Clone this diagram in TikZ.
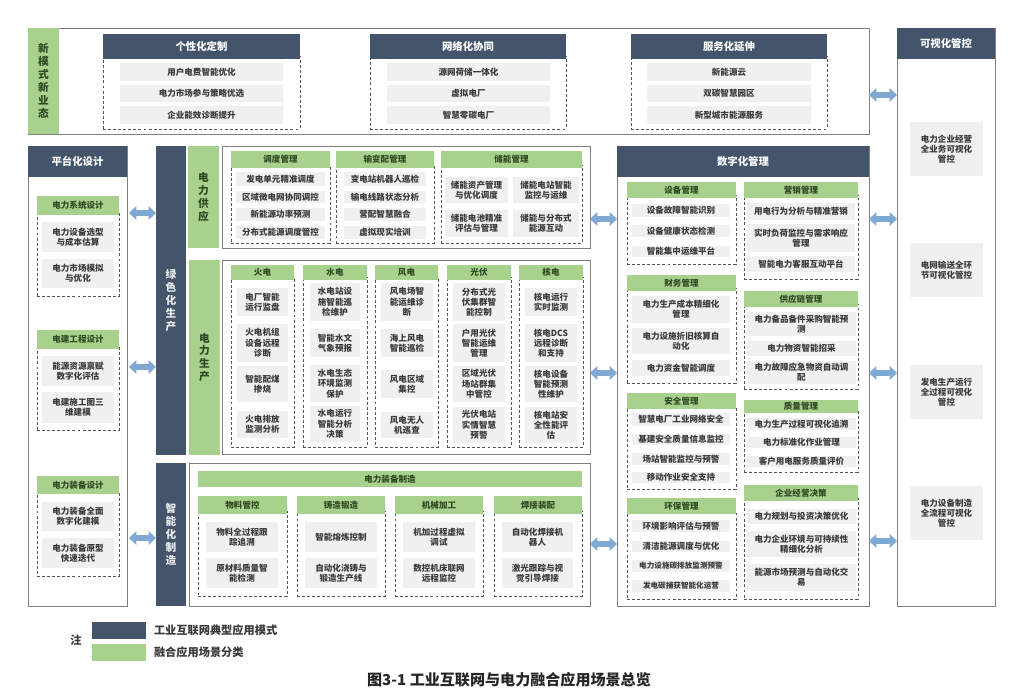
\documentclass[tikz,border=0pt]{standalone}
\usepackage{fontspec}
\setmainfont{Noto Sans CJK SC}
\usetikzlibrary{arrows.meta}
\definecolor{navy}{HTML}{44546A}
\definecolor{lgreen}{HTML}{A9D18E}
\definecolor{lgray}{HTML}{F0F0F0}
\definecolor{arrowblue}{HTML}{7FA9D3}
\definecolor{panelline}{HTML}{808080}
\definecolor{dashline}{HTML}{555555}
\definecolor{txt}{HTML}{3A3A3A}
\definecolor{gtxt}{HTML}{2F4A22}
\tikzset{
  base/.style={inner sep=0pt,outer sep=0pt,align=center},
  panel/.style={base,draw=panelline,line width=0.6pt,fill=white},
  navyhead/.style={base,fill=navy,text=white,font=\bfseries\fontsize{7.8}{9.5}\selectfont},
  navycol/.style={base,fill=navy,text=white!88!navy,font=\bfseries\fontsize{8}{9.7}\selectfont},
  greencol/.style={base,fill=lgreen,text=gtxt,font=\bfseries\fontsize{8}{9.7}\selectfont},
  greenhead/.style={base,fill=lgreen,text=gtxt,font=\bfseries\fontsize{6.4}{7.7}\selectfont},
  dashbox/.style={base,draw=dashline,line width=0.5pt,dash pattern=on 2.2pt off 1.6pt},
  grayitem/.style={base,fill=lgray,text=txt,font=\bfseries\fontsize{6.4}{7.7}\selectfont},
  smallitem/.style={grayitem,font=\bfseries\fontsize{5.7}{7}\selectfont},
  bigarrow/.style={draw=arrowblue,line width=4.4pt,{Triangle[width=10pt,length=5.5pt]}-{Triangle[width=10pt,length=5.5pt]}},
  legendtext/.style={inner sep=0pt,outer sep=0pt,anchor=west,text=txt,font=\bfseries\fontsize{8.4}{10}\selectfont},
}
\newcommand\bx[7]{%
  \pgfmathsetmacro\bxw{(#5-#3)*0.75}\pgfmathsetmacro\bxh{(#6-#4)*0.75}%
  \node[#1,minimum width=\bxw pt,minimum height=\bxh pt] (#2) at ({(#3+#5)/2},{(#4+#6)/2}) {#7};}
\newcommand\grp[7]{% name x1 y1 x2 yhead y2 text
  \pgfmathsetmacro\grpy{#5-3}%
  \bx{dashbox}{#1d}{#2}{\grpy}{#4}{#6}{}%
  \bx{greenhead}{#1}{#2}{#3}{#4}{#5}{#7}}
\newcommand\nav[7]{% name x1 y1 x2 yhead y2 text
  \pgfmathsetmacro\grpy{#5-3}%
  \bx{dashbox}{#1d}{#2}{\grpy}{#4}{#6}{}%
  \bx{navyhead}{#1}{#2}{#3}{#4}{#5}{#7}}
\newcommand\itm[6]{\bx{grayitem}{#1}{#2}{#3}{#4}{#5}{#6}}
\begin{document}
\begin{tikzpicture}[x=0.75pt,y=-0.75pt]
\useasboundingbox (0,0) rectangle (1032,697);
% ---------- top panel
\bx{panel}{toppanel}{28}{28}{869}{134}{}
\bx{greencol}{xinmoshi}{28}{28}{59}{134}{新\\模\\式\\新\\业\\态}
\nav{gx}{103}{34}{300}{59}{129}{个性化定制}
\itm{gx1}{120}{63}{283}{81}{用户电费智能优化}
\itm{gx2}{120}{85}{283}{102}{电力市场参与策略优选}
\itm{gx3}{120}{106}{283}{124}{企业能效诊断提升}
\nav{wl}{370}{34}{566}{59}{129}{网络化协同}
\itm{wl1}{387}{63}{550}{81}{源网荷储一体化}
\itm{wl2}{387}{85}{550}{102}{虚拟电厂}
\itm{wl3}{387}{106}{550}{124}{智慧零碳电厂}
\nav{fw}{631}{34}{827}{59}{129}{服务化延伸}
\itm{fw1}{647}{63}{811}{81}{新能源云}
\itm{fw2}{647}{85}{811}{102}{双碳智慧园区}
\itm{fw3}{647}{106}{811}{124}{新型城市能源服务}
% ---------- visual control
\bx{panel}{vispanel}{897}{28}{995}{606}{}
\bx{navyhead}{vis}{897}{28}{995}{59}{可视化管控}
\itm{vis1}{910}{122}{983}{176}{电力企业经营\\全业务可视化\\管控}
\itm{vis2}{910}{243}{983}{297}{电网输送全环\\节可视化管控}
\itm{vis3}{910}{365}{983}{419}{发电生产运行\\全过程可视化\\管控}
\itm{vis4}{910}{486}{983}{540}{电力设备制造\\全流程可视化\\管控}
% ---------- platform design
\bx{panel}{platpanel}{28}{146}{127}{606}{}
\bx{navyhead}{plat}{28}{146}{127}{177}{平台化设计}
\grp{pa}{37}{196}{119}{215}{296}{电力系统设计}
\itm{pa1}{42}{222}{114}{252}{电力设备选型\\与成本估算}
\itm{pa2}{42}{259}{114}{288}{电力市场模拟\\与优化}
\grp{pb}{37}{330}{119}{349}{430}{电建工程设计}
\itm{pb1}{42}{356}{114}{386}{能源资源禀赋\\数字化评估}
\itm{pb2}{42}{392}{114}{423}{电建施工图三\\维建模}
\grp{pc}{37}{476}{119}{494}{576}{电力装备设计}
\itm{pc1}{42}{502}{114}{531}{电力装备全面\\数字化建模}
\itm{pc2}{42}{538}{114}{568}{电力装备原型\\快速迭代}
% ---------- green production
\bx{navycol}{lvse}{156}{146}{186}{455}{绿\\色\\化\\生\\产}
\bx{navycol}{zhizao}{156}{463}{186}{606}{智\\能\\化\\制\\造}
\bx{greencol}{gongying}{188}{146}{219}{248}{电\\力\\供\\应}
\bx{panel}{gypanel}{222}{146}{590}{248}{}
\grp{dd}{231}{151}{330}{168}{243}{调度管理}
\itm{dd1}{236}{172}{325}{186}{发电单元精准调度}
\itm{dd2}{236}{191}{325}{203}{区域微电网协同调控}
\itm{dd3}{236}{208}{325}{221}{新能源功率预测}
\itm{dd4}{236}{226}{325}{239}{分布式能源调度管控}
\grp{sb}{336}{151}{434}{168}{243}{输变配管理}
\itm{sb1}{344}{172}{426}{186}{变电站机器人巡检}
\itm{sb2}{344}{191}{426}{203}{输电线路状态分析}
\itm{sb3}{344}{208}{426}{221}{营配智慧融合}
\itm{sb4}{344}{226}{426}{239}{虚拟现实培训}
\grp{cn}{441}{151}{582}{168}{243}{储能管理}
\itm{cn1}{445}{177}{508}{203}{储能资产管理\\与优化调度}
\itm{cn2}{513}{177}{579}{203}{储能电站智能\\监控与运维}
\itm{cn3}{445}{210}{508}{237}{储能电池精准\\评估与管理}
\itm{cn4}{513}{210}{579}{237}{储能与分布式\\能源互动}
% ---------- power production
\bx{greencol}{shengchan}{189}{260}{220}{455}{电\\力\\生\\产}
\bx{panel}{scpanel}{222}{260}{590}{454}{}
\grp{hd}{231}{265}{294}{280}{447}{火电}
\itm{hd1}{237}{288}{288}{316}{电厂智能\\运行监盘}
\itm{hd2}{237}{324}{288}{362}{火电机组\\设备远程\\诊断}
\itm{hd3}{237}{366}{288}{402}{智能配煤\\掺烧}
\itm{hd4}{237}{411}{288}{438}{火电排放\\监测分析}
\grp{sd}{303}{265}{367}{280}{447}{水电}
\itm{sd1}{310}{283}{360}{321}{水电站设\\施智能巡\\检维护}
\itm{sd2}{310}{329}{360}{357}{智能水文\\气象预报}
\itm{sd3}{310}{365}{360}{402}{水电生态\\环境监测\\保护}
\itm{sd4}{310}{406}{360}{442}{水电运行\\智能分析\\决策}
\grp{fd}{375}{265}{438}{280}{447}{风电}
\itm{fd1}{381}{283}{433}{321}{风电场智\\能运维诊\\断}
\itm{fd2}{381}{329}{433}{357}{海上风电\\智能巡检}
\itm{fd3}{381}{370}{433}{398}{风电区域\\集控}
\itm{fd4}{381}{412}{433}{438}{风电无人\\机巡查}
\grp{gf}{447}{265}{511}{280}{447}{光伏}
\itm{gf1}{453}{283}{505}{321}{分布式光\\伏集群智\\能控制}
\itm{gf2}{453}{324}{505}{362}{户用光伏\\智能运维\\管理}
\itm{gf3}{453}{366}{505}{402}{区域光伏\\场站群集\\中管控}
\itm{gf4}{453}{407}{505}{443}{光伏电站\\实情智慧\\预警}
\grp{he}{519}{265}{583}{280}{447}{核电}
\itm{he1}{525}{288}{577}{316}{核电运行\\实时监测}
\itm{he2}{525}{324}{577}{362}{核电DCS\\远程诊断\\和支持}
\itm{he3}{525}{366}{577}{402}{核电设备\\智能预测\\性维护}
\itm{he4}{525}{407}{577}{443}{核电站安\\全性能评\\估}
% ---------- manufacturing
\bx{panel}{zzpanel}{189}{463}{590}{606}{}
\bx{greenhead}{zzhead}{198}{471}{582}{487}{电力装备制造}
\grp{wk}{198}{496}{287}{514}{596}{物料管控}
\itm{wk1}{206}{522}{278}{552}{物料全过程跟\\踪追溯}
\itm{wk2}{206}{558}{278}{588}{原材料质量智\\能检测}
\grp{zd}{297}{496}{385}{514}{596}{铸造锻造}
\itm{zd1}{305}{522}{377}{552}{智能熔炼控制}
\itm{zd2}{305}{558}{377}{588}{自动化浇铸与\\锻造生产线}
\grp{jx}{395}{496}{483}{514}{596}{机械加工}
\itm{jx1}{403}{522}{475}{552}{机加过程虚拟\\调试}
\itm{jx2}{403}{558}{475}{588}{数控机床联网\\远程监控}
\grp{hj}{494}{496}{582}{514}{596}{焊接装配}
\itm{hj1}{502}{522}{573}{552}{自动化焊接机\\器人}
\itm{hj2}{502}{558}{573}{588}{激光跟踪与视\\觉引导焊接}
% ---------- digital management
\bx{panel}{digpanel}{617}{146}{869}{606}{}
\bx{navyhead}{dig}{617}{146}{869}{177}{数字化管理}
\grp{sbg}{627}{182}{736}{198}{264}{设备管理}
\itm{sbg1}{632}{204}{730}{217}{设备故障智能识别}
\itm{sbg2}{632}{225}{730}{237}{设备健康状态检测}
\itm{sbg3}{632}{246}{730}{257}{智能集中运维平台}
\grp{yx}{744}{182}{858}{198}{279}{营销管理}
\itm{yx1}{747}{203}{855}{220}{用电行为分析与精准营销}
\itm{yx2}{747}{224}{855}{252}{实时负荷监控与需求响应\\管理}
\itm{yx3}{747}{256}{855}{272}{智能电力客服互动平台}
\grp{cw}{627}{275}{736}{291}{383}{财务管理}
\itm{cw1}{632}{296}{730}{323}{电力生产成本精细化\\管理}
\itm{cw2}{632}{328}{730}{354}{电力设施折旧核算自\\动化}
\itm{cw3}{632}{360}{730}{376}{电力资金智能调度}
\grp{gyl}{744}{291}{858}{307}{389}{供应链管理}
\itm{gyl1}{747}{312}{856}{336}{电力备品备件采购智能预\\测}
\itm{gyl2}{747}{341}{856}{356}{电力物资智能招采}
\itm{gyl3}{747}{361}{856}{384}{电力故障应急物资自动调\\配}
\grp{aq}{627}{393}{736}{409}{489}{安全管理}
\itm{aq1}{632}{413}{730}{426}{智慧电厂工业网络安全}
\itm{aq2}{632}{434}{730}{445}{基建安全质量信息监控}
\itm{aq3}{632}{453}{730}{465}{场站智能监控与预警}
\itm{aq4}{632}{472}{730}{483}{移动作业安全支持}
\grp{zl}{744}{400}{858}{413}{472}{质量管理}
\itm{zl1}{747}{418}{856}{430}{电力生产过程可视化追溯}
\itm{zl2}{747}{437}{856}{448}{电力标准化作业管理}
\itm{zl3}{747}{456}{856}{467}{客户用电服务质量评价}
\grp{hb}{627}{498}{736}{514}{599}{环保管理}
\itm{hb1}{632}{520}{730}{532}{环境影响评估与预警}
\itm{hb2}{632}{541}{730}{552}{清洁能源调度与优化}
\bx{smallitem}{hb3}{632}{560}{730}{572}{电力设施碳排放监测预警}
\bx{smallitem}{hb4}{632}{580}{730}{592}{发电碳捕获智能化运营}
\grp{qy}{744}{485}{858}{501}{599}{企业经营决策}
\itm{qy1}{747}{509}{856}{524}{电力规划与投资决策优化}
\itm{qy2}{747}{531}{856}{557}{电力企业环境与可持续性\\精细化分析}
\itm{qy3}{747}{564}{856}{591}{能源市场预测与自动化交\\易}
% ---------- arrows
\draw[bigarrow] ([xshift=1.5pt]platpanel.east |- 0,213) -- (lvse.west |- 0,213);
\draw[bigarrow] ([xshift=1.5pt]platpanel.east |- 0,367) -- (lvse.west |- 0,367);
\draw[bigarrow] ([xshift=1.5pt]platpanel.east |- 0,538) -- (zhizao.west |- 0,538);
\draw[bigarrow] (gypanel.east |- 0,219) -- (digpanel.west |- 0,219);
\draw[bigarrow] (scpanel.east |- 0,373) -- (digpanel.west |- 0,373);
\draw[bigarrow] (zzpanel.east |- 0,544) -- (digpanel.west |- 0,544);
\draw[bigarrow] (toppanel.east |- 0,95) -- (vispanel.west |- 0,95);
\draw[bigarrow] (digpanel.east |- 0,219) -- (vispanel.west |- 0,219);
\draw[bigarrow] (digpanel.east |- 0,373) -- (vispanel.west |- 0,373);
\draw[bigarrow] (digpanel.east |- 0,541) -- (vispanel.west |- 0,541);
% ---------- legend
\node[inner sep=0pt,text=txt,font=\bfseries\fontsize{8.4}{10}\selectfont] (zhu) at (76,640) {注};
\bx{base,fill=navy}{legnavy}{92}{622}{146}{639}{}
\bx{base,fill=lgreen}{leggreen}{92}{644}{146}{661}{}
\node[legendtext] (legt1) at (154,630) {工业互联网典型应用模式};
\node[legendtext] (legt2) at (154,652) {融合应用场景分类};
\node[inner sep=0pt,text=black!85,font=\bfseries\fontsize{11.3}{13}\selectfont] (caption) at (509,680) {图3-1 工业互联网与电力融合应用场景总览};
\end{tikzpicture}
\end{document}
